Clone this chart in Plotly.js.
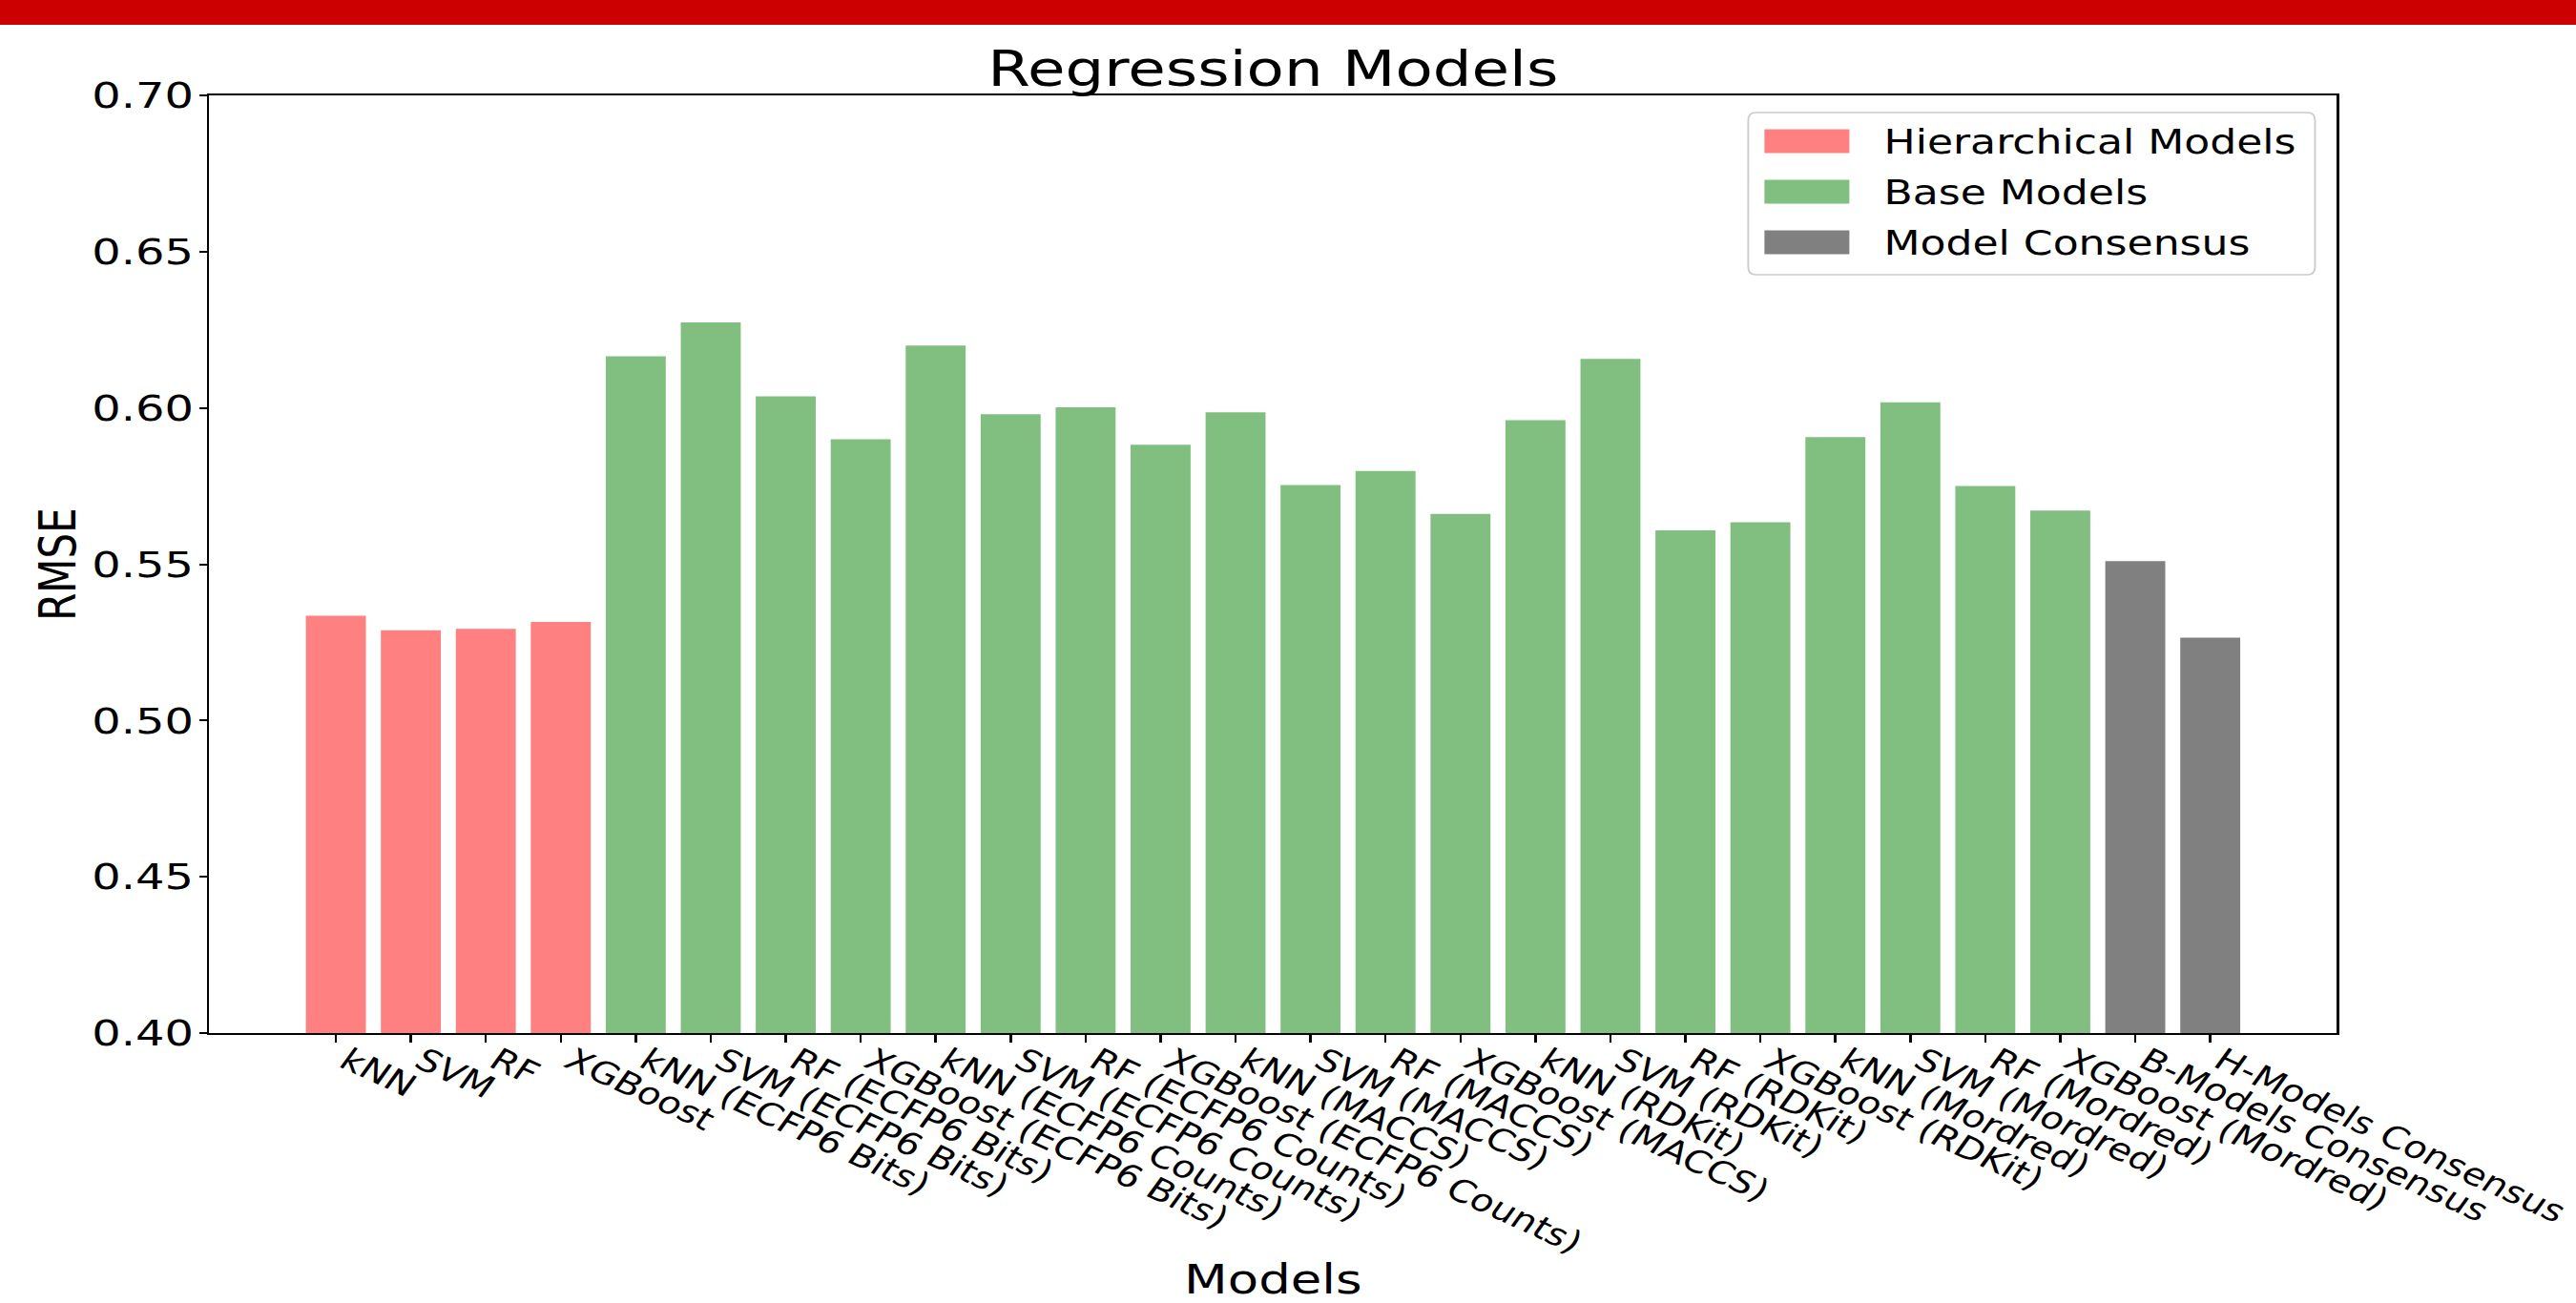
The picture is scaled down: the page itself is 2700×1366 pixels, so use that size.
<!DOCTYPE html>
<html><head><meta charset="utf-8">
<script src="https://cdn.plot.ly/plotly-3.0.1.min.js"></script>
<style>
html,body{margin:0;padding:0;background:#fff;overflow:hidden;width:2700px;height:1366px;}
#topbar{position:absolute;left:0;top:0;width:2700px;height:26px;background:#cc0000;z-index:5;}
#chart{position:absolute;left:0;top:0;height:1366px;transform-origin:0 0;}
</style></head><body>
<div id="topbar"></div>
<div id="chart"></div>
<script>
// ---- data ----
const hierModels = ["kNN", "SVM", "RF", "XGBoost"];
const hierRMSE = [0.5335, 0.5289, 0.5293, 0.5315];
const baseModels = [
  "kNN (ECFP6 Bits)", "SVM (ECFP6 Bits)", "RF (ECFP6 Bits)", "XGBoost (ECFP6 Bits)",
  "kNN (ECFP6 Counts)", "SVM (ECFP6 Counts)", "RF (ECFP6 Counts)", "XGBoost (ECFP6 Counts)",
  "kNN (MACCS)", "SVM (MACCS)", "RF (MACCS)", "XGBoost (MACCS)",
  "kNN (RDKit)", "SVM (RDKit)", "RF (RDKit)", "XGBoost (RDKit)",
  "kNN (Mordred)", "SVM (Mordred)", "RF (Mordred)", "XGBoost (Mordred)"
];
const baseRMSE = [
  0.6165, 0.6274, 0.6037, 0.5900,
  0.6200, 0.5980, 0.6002, 0.5882,
  0.5986, 0.5753, 0.5798, 0.5661,
  0.5961, 0.6157, 0.5608, 0.5634,
  0.5907, 0.6018, 0.5750, 0.5672
];
const consensusModels = ["B-Models Consensus", "H-Models Consensus"];
const consensusRMSE = [0.5510, 0.5265];
const yTicks = [0.40, 0.45, 0.50, 0.55, 0.60, 0.65, 0.70];
const seriesNames = ["Hierarchical Models", "Base Models", "Model Consensus"];
const seriesColors = ["#ff8080", "#80bf80", "#808080"];

// ---- geometry (full-size px targets) ----
const S = 1.26;                 // horizontal stretch of the reference
const W = Math.round(2700 / S);
const H = 1366;
const PL = 219, PR = 2449, PT = 100, PB = 1083;
const px = X => (X - PL) / (PR - PL);
const py = Y => (PB - Y) / (PB - PT);

const allModels = hierModels.concat(baseModels, consensusModels);
const n = allModels.length;
const pad = 0.05 * ((n - 1) + 0.8);

const traces = [
  {type: "bar", name: seriesNames[0], x: hierModels, y: hierRMSE, width: 0.8,
   marker: {color: seriesColors[0], line: {width: 0}}},
  {type: "bar", name: seriesNames[1], x: baseModels, y: baseRMSE, width: 0.8,
   marker: {color: seriesColors[1], line: {width: 0}}},
  {type: "bar", name: seriesNames[2], x: consensusModels, y: consensusRMSE, width: 0.8,
   marker: {color: seriesColors[2], line: {width: 0}}}
];

// custom legend (matplotlib-like)
const LX0 = 1832, LX1 = 2426, LY0 = 118, LY1 = 288, RAD = 8;
function roundRect(x0, y0, x1, y1, r) {
  const a = px(x0), b = px(x1), c = py(y1), d = py(y0);
  const rx = r / (PR - PL), ry = r / (PB - PT);
  return `M${a+rx},${d} L${b-rx},${d} Q${b},${d} ${b},${d-ry} L${b},${c+ry} Q${b},${c} ${b-rx},${c} ` +
         `L${a+rx},${c} Q${a},${c} ${a},${c+ry} L${a},${d-ry} Q${a},${d} ${a+rx},${d} Z`;
}
const shapes = [{type: "path", xref: "paper", yref: "paper", path: roundRect(LX0, LY0, LX1, LY1, RAD),
  fillcolor: "rgba(255,255,255,0.8)", line: {color: "#cccccc", width: 1.5}}];
const annotations = [];
const rowCenters = [148, 201, 254];
seriesNames.forEach((nm, i) => {
  const yc = rowCenters[i];
  shapes.push({type: "rect", xref: "paper", yref: "paper",
    x0: px(1849), x1: px(1938), y0: py(yc + 12.5), y1: py(yc - 12.5),
    fillcolor: seriesColors[i], line: {width: 0}});
  annotations.push({xref: "paper", yref: "paper", x: px(1972), y: py(yc + 1),
    xanchor: "left", yanchor: "middle", showarrow: false, text: nm,
    font: {family: "DejaVu Sans", size: 35, color: "#000"}});
});

const layout = {
  width: W, height: H,
  margin: {l: PL / S, r: W - PR / S, t: PT, b: H - PB, pad: 0},
  paper_bgcolor: "#fff", plot_bgcolor: "#fff",
  font: {family: "DejaVu Sans", color: "#000"},
  showlegend: false,
  barmode: "overlay",
  title: {text: "Regression Models", font: {family: "DejaVu Sans", size: 51, color: "#000"},
          xref: "paper", x: 0.5, xanchor: "center", yref: "container", y: 1 - 90 / H, yanchor: "bottom"},
  xaxis: {type: "category", categoryorder: "array", categoryarray: allModels,
          range: [-0.4 - pad, (n - 1) + 0.4 + pad], automargin: false,
          showgrid: false, zeroline: false, showline: true, linewidth: 2, linecolor: "#000", mirror: true,
          ticks: "outside", ticklen: 8, tickwidth: 2, tickcolor: "#000",
          tickangle: 30, ticklabelstandoff: -12, ticklabelshift: 9,
          tickfont: {family: "DejaVu Sans", size: 32, color: "#000"},
          title: {text: "Models", font: {family: "DejaVu Sans", size: 42, color: "#000"}, standoff: 63}},
  yaxis: {range: [0.40, 0.70], tickvals: yTicks, tickformat: ".2f", automargin: false,
          showgrid: false, zeroline: false, showline: true, linewidth: 2, linecolor: "#000", mirror: true,
          ticks: "outside", ticklen: 8 / S, tickwidth: 2, tickcolor: "#000",
          ticklabelstandoff: -3,
          tickfont: {family: "DejaVu Sans", size: 38, color: "#000"},
          title: {text: "RMSE", font: {family: "DejaVu Sans", size: 42, color: "#000"}, standoff: 0}},
  shapes: shapes,
  annotations: annotations
};

const el = document.getElementById("chart");
el.style.width = W + "px";
el.style.transform = "scaleX(" + S + ")";
Plotly.newPlot(el, traces, layout, {displayModeBar: false, responsive: false});
</script>
</body></html>
